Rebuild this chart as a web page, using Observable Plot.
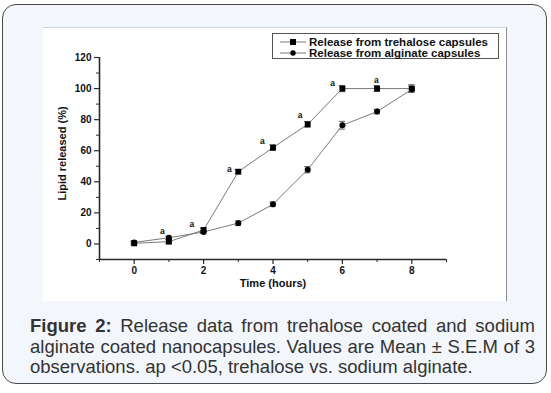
<!DOCTYPE html>
<html>
<head>
<meta charset="utf-8">
<script src="https://cdn.jsdelivr.net/npm/d3@7"></script>
<script src="https://cdn.jsdelivr.net/npm/@observablehq/plot@0.6"></script>
<style>
  html, body { margin: 0; padding: 0; background: #ffffff; width: 551px; height: 393px; overflow: hidden; }
  #outer { position: absolute; left: 2px; top: 4px; width: 545px; height: 380px; box-sizing: border-box;
           border: 1.5px solid #4a4a4a; border-radius: 14px; background: #f3f6fa; }
  #panel { position: absolute; left: 43px; top: 27px; width: 463px; height: 273px; background: #ffffff;
           border-top: 1px solid #cfd4da; border-right: 1px solid #8a8a8a; }
  #chart { position: absolute; left: 43px; top: 27px; }
  #legend { position: absolute; left: 272px; top: 33px; width: 227px; height: 26px; box-sizing: border-box;
            border: 1px solid #555; background: #fff; font: bold 11.5px "Liberation Sans", Arial, sans-serif; color: #111; }
  .row { position: absolute; left: 0; height: 12px; display: flex; align-items: center; white-space: nowrap; }
  .row svg { margin-left: 7px; margin-right: 3px; }
  #caption { position: absolute; left: 30px; top: 316px; width: 505px; font: 18.5px "Liberation Sans", Arial, sans-serif;
             line-height: 20.5px; color: #333; }
  #caption .j { text-align: justify; text-align-last: justify; white-space: nowrap; }
  #caption .l { text-align: left; white-space: nowrap; }
</style>
</head>
<body>
<div id="outer"></div>
<div id="panel"></div>
<div id="chart"></div>
<div id="legend"></div>
<div id="caption">
  <div class="j"><b>Figure 2:</b> Release data from trehalose coated and sodium</div>
  <div class="j">alginate coated nanocapsules. Values are Mean ± S.E.M of 3</div>
  <div class="l">observations. ap &lt;0.05, trehalose vs. sodium alginate.</div>
</div>
<script>
// ---- data ----
const timeHours = [0, 1, 2, 3, 4, 5, 6, 7, 8];
const trehaloseRelease = [0.4, 1.5, 9, 46.5, 62, 77, 100, 100, 100];
const trehaloseSem = [1, 1, 1.2, 1.2, 1.8, 1.8, 2, 1.8, 2.5];
const alginateRelease = [1, 4, 7.7, 13.4, 25.5, 47.8, 76.4, 85.2, 99.5];
const alginateSem = [1, 1, 1, 1.5, 1.5, 2, 2.5, 1.5, 2];
const sigLabelTime = [0.81, 1.66, 2.74, 3.69, 4.78, 5.72, 6.98];
const sigLabelLevel = [7.9, 12.4, 47.8, 66.4, 83, 103.5, 105.5];
const yMajorTicks = [0, 20, 40, 60, 80, 100, 120];
const yMinorTicks = [-10, 10, 30, 50, 70, 90, 110];
const xMajorTicks = [0, 2, 4, 6, 8];
const xMinorTicks = [-1, 1, 3, 5, 7, 9];
const seriesNames = ["Release from trehalose capsules", "Release from alginate capsules"];
const xLabel = "Time (hours)";
const yLabel = "Lipid released (%)";

const rows = [];
timeHours.forEach((t, i) => {
  rows.push({series: seriesNames[0], t, v: trehaloseRelease[i], sem: trehaloseSem[i]});
  rows.push({series: seriesNames[1], t, v: alginateRelease[i], sem: alginateSem[i]});
});
const sig = sigLabelTime.map((t, i) => ({t, v: sigLabelLevel[i]}));
const capHalf = 0.09;

const lineColor = "#7a7a7a";
const axisColor = "#2a2a2a";
const symbolOf = s => s === seriesNames[0] ? "square" : "circle";

const plot = Plot.plot({
  width: 464,
  height: 274,
  marginLeft: 56,
  marginRight: 61,
  marginTop: 30,
  marginBottom: 42,
  style: {background: "transparent", fontFamily: "'Liberation Sans', Arial, sans-serif", fontSize: "10px", fontWeight: "bold", color: "#111"},
  x: {domain: [-1, 9], axis: null},
  y: {domain: [-10, 120], axis: null},
  marks: [
    Plot.axisY({ticks: yMinorTicks, tickSize: 3, text: null, label: null, stroke: axisColor, strokeWidth: 1}),
    Plot.axisY({ticks: yMajorTicks, tickSize: 5, tickPadding: 3, stroke: axisColor, strokeWidth: 1.2, label: null, fontWeight: "bold"}),
    Plot.axisX({ticks: xMinorTicks, tickSize: 3, text: null, label: null, stroke: axisColor, strokeWidth: 1}),
    Plot.axisX({ticks: xMajorTicks, tickSize: 5, tickPadding: 2, stroke: axisColor, strokeWidth: 1.2, label: null, fontWeight: "bold"}),
    Plot.ruleX([-1], {y1: -10, y2: 120, stroke: axisColor, strokeWidth: 1.6}),
    Plot.ruleY([-10], {x1: -1, x2: 9, stroke: axisColor, strokeWidth: 1.6}),
    Plot.text([yLabel], {frameAnchor: "left", textAnchor: "middle", dx: -37, dy: -5, rotate: -90, fontSize: 11, fontWeight: "bold", fill: "#111"}),
    Plot.text([xLabel], {frameAnchor: "bottom", dy: 27, fontSize: 11, fontWeight: "bold", fill: "#111"}),
    Plot.line(rows, {x: "t", y: "v", z: "series", stroke: lineColor, strokeWidth: 1}),
    Plot.ruleX(rows, {x: "t", y1: d => d.v - d.sem, y2: d => d.v + d.sem, stroke: "#666", strokeWidth: 1}),
    Plot.ruleY(rows, {y: d => d.v - d.sem, x1: d => d.t - capHalf, x2: d => d.t + capHalf, stroke: "#666", strokeWidth: 1}),
    Plot.ruleY(rows, {y: d => d.v + d.sem, x1: d => d.t - capHalf, x2: d => d.t + capHalf, stroke: "#666", strokeWidth: 1}),
    Plot.dot(rows, {x: "t", y: "v", symbol: d => symbolOf(d.series), r: d => d.series === seriesNames[0] ? 3.3 : 2.7, fill: "#000", stroke: "none"}),
    Plot.text(sig, {x: "t", y: "v", text: () => "a", fontSize: 8.5, fontWeight: "bold", fill: "#111"})
  ],
  symbol: {domain: ["square", "circle"], range: ["square", "circle"]}
});
document.getElementById("chart").appendChild(plot);

// legend (HTML)
const legend = document.getElementById("legend");
seriesNames.forEach((name, i) => {
  const row = document.createElement("div");
  row.className = "row";
  row.style.top = (i === 0 ? 1.5 : 12.5) + "px";
  const mark = i === 0
    ? '<rect x="10" y="3" width="6" height="6" fill="#000"/>'
    : '<circle cx="13" cy="6" r="2.7" fill="#000"/>';
  row.innerHTML = `<svg width="26" height="12"><line x1="0" y1="6" x2="26" y2="6" stroke="${lineColor}" stroke-width="1"/>${mark}</svg><span>${name}</span>`;
  legend.appendChild(row);
});
</script>
</body>
</html>
